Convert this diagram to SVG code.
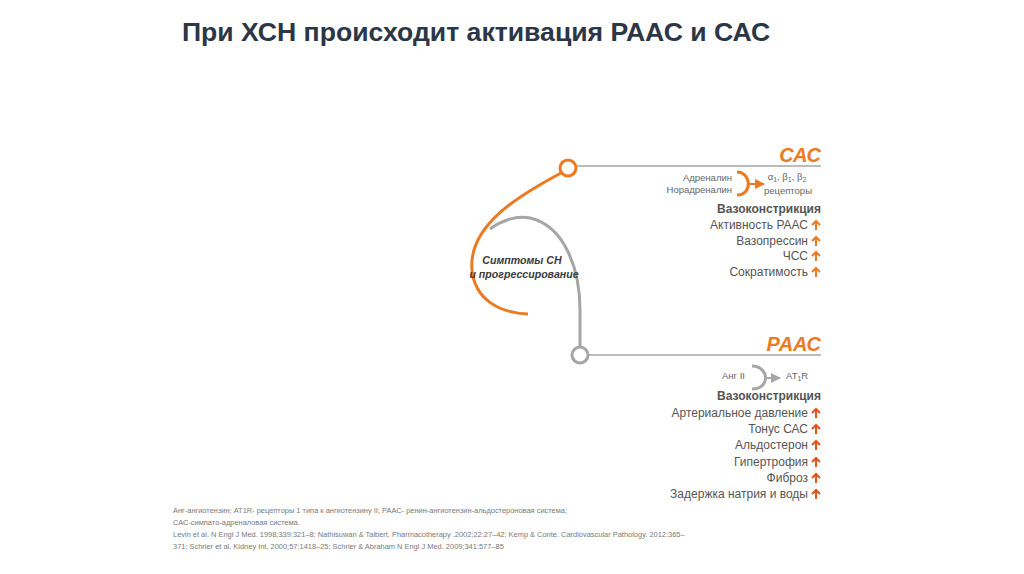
<svg xmlns="http://www.w3.org/2000/svg" xmlns:xlink="http://www.w3.org/1999/xlink" width="1024" height="574" viewBox="0 0 1024 574">
<style>
.title{font-family:"Liberation Sans",Arial,sans-serif;font-weight:bold;font-size:26.6px;fill:#2b3646}
.hdr{font-family:"Liberation Sans",Arial,sans-serif;font-weight:bold;font-style:italic;font-size:20px;fill:#ec7a22;text-anchor:end}
.sm{font-family:"Liberation Sans",Arial,sans-serif;font-size:9.5px;fill:#666}
.it{font-family:"Liberation Sans",Arial,sans-serif;font-size:12px;fill:#555;text-anchor:end}
.b{font-weight:bold}
.mid{font-family:"Liberation Sans",Arial,sans-serif;font-style:italic;font-weight:bold;font-size:10.6px;fill:#3a3a3a;text-anchor:middle}
.fn{font-family:"Liberation Sans",Arial,sans-serif;font-size:7.45px;fill:#7a7a7a}
.up{fill:none;stroke-width:2;stroke-linecap:butt}
</style>
<defs>
<path id="upa" d="M0,0 V-9 M-4,-5 L0,-9 L4,-5" class="up"/>
<marker id="ao" viewBox="0 0 10 10" refX="9" refY="5" markerWidth="5" markerHeight="5" orient="auto"><path d="M0,0 L10,5 L0,10 z" fill="#ec7a22"/></marker>
<marker id="ag" viewBox="0 0 10 10" refX="9" refY="5" markerWidth="5" markerHeight="5" orient="auto"><path d="M0,0 L10,5 L0,10 z" fill="#a6a6a6"/></marker>
</defs>
<text class="title" x="182" y="41">При ХСН происходит активация РААС и САС</text>
<g id="connectors">
<path d="M490,229 C505,218 520,216 530,218 C565,226 580,270 580,310 L580,347" fill="none" stroke="#a6a6a6" stroke-width="3"/>
<path d="M561,173 C520,195 468,225 472,270 C475,300 500,313 528,314" fill="none" stroke="#ec7a22" stroke-width="3"/>
<line x1="576" y1="166" x2="821" y2="166" stroke="#a6a6a6" stroke-width="1.5"/>
<line x1="588" y1="355" x2="821" y2="355" stroke="#a6a6a6" stroke-width="1.5"/>
</g>
<g id="center-label">
<text class="mid" x="522" y="264">Симптомы СН</text>
<text class="mid" x="524" y="278">и прогрессирование</text>
</g>
<g id="sas-node">
<circle cx="568" cy="168" r="8" fill="#fff" stroke="#ec7a22" stroke-width="3"/>
<text class="hdr" x="821" y="162">САС</text>
<text class="sm" x="732" y="181" text-anchor="end">Адреналин</text>
<text class="sm" x="732" y="193" text-anchor="end">Норадреналин</text>
<path d="M737,172 C751,172 753,195 737,195" fill="none" stroke="#ec7a22" stroke-width="3"/>
<line x1="749" y1="184" x2="764" y2="184" stroke="#ec7a22" stroke-width="2" marker-end="url(#ao)"/>
<text class="sm" x="787" y="180" text-anchor="middle">α<tspan font-size="7" dy="2">1</tspan><tspan dy="-2">, β</tspan><tspan font-size="7" dy="2">1</tspan><tspan dy="-2">, β</tspan><tspan font-size="7" dy="2">2</tspan></text>
<text class="sm" x="788" y="194" text-anchor="middle">рецепторы</text>
<text class="it b" x="821" y="213">Вазоконстрикция</text>
<text class="it" x="808" y="229">Активность РААС</text>
<text class="it" x="808" y="245">Вазопрессин</text>
<text class="it" x="808" y="260">ЧСС</text>
<text class="it" x="808" y="276">Сократимость</text>
<g stroke="#ec7a22">
<use xlink:href="#upa" href="#upa" x="816" y="230"/>
<use xlink:href="#upa" href="#upa" x="816" y="246"/>
<use xlink:href="#upa" href="#upa" x="816" y="261"/>
<use xlink:href="#upa" href="#upa" x="816" y="277"/>
</g>
</g>
<g id="raas-node">
<circle cx="580" cy="355" r="8" fill="#fff" stroke="#a6a6a6" stroke-width="3"/>
<text class="hdr" x="821" y="351">РААС</text>
<text class="sm" x="745" y="379" font-size="9" text-anchor="end">Анг II</text>
<path d="M752,366 C769,366 771,389 752,389" fill="none" stroke="#a6a6a6" stroke-width="3"/>
<line x1="765" y1="378" x2="780" y2="378" stroke="#a6a6a6" stroke-width="2" marker-end="url(#ag)"/>
<text class="sm" x="786" y="379" font-size="9">AT<tspan font-size="7" dy="2">1</tspan><tspan dy="-2">R</tspan></text>
<text class="it b" x="821" y="400">Вазоконстрикция</text>
<text class="it" x="808" y="417">Артериальное давление</text>
<text class="it" x="808" y="433">Тонус САС</text>
<text class="it" x="808" y="449">Альдостерон</text>
<text class="it" x="808" y="466">Гипертрофия</text>
<text class="it" x="808" y="482">Фиброз</text>
<text class="it" x="808" y="498">Задержка натрия и воды</text>
<g stroke="#e4521c">
<use xlink:href="#upa" href="#upa" x="816" y="418"/>
<use xlink:href="#upa" href="#upa" x="816" y="434"/>
<use xlink:href="#upa" href="#upa" x="816" y="450"/>
<use xlink:href="#upa" href="#upa" x="816" y="467"/>
<use xlink:href="#upa" href="#upa" x="816" y="483"/>
<use xlink:href="#upa" href="#upa" x="816" y="499"/>
</g>
</g>
<g id="footnote">
<text class="fn" x="173" y="513">Анг-ангиотензин; AT1R- рецепторы 1 типа к ангиотензину II; РААС- ренин-ангиотензин-альдостероновая система;</text>
<text class="fn" x="173" y="525">САС-симпато-адреналовая система.</text>
<text class="fn" x="173" y="537">Levin et al. N Engl J Med. 1998;339:321–8; Nathisuwan &amp; Talbert. Pharmacotherapy .2002;22:27–42; Kemp &amp; Conte. Cardiovascular Pathology. 2012:365–</text>
<text class="fn" x="173" y="549">371; Schrier et al. Kidney Int. 2000;57:1418–25; Schrier &amp; Abraham N Engl J Med. 2009;341:577–85</text>
</g>
</svg>
